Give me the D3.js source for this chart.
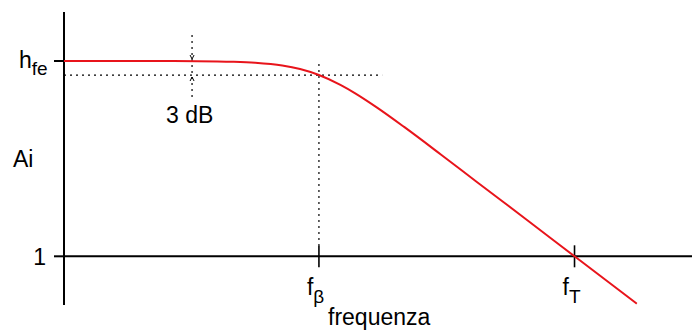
<!DOCTYPE html>
<html>
<head>
<meta charset="utf-8">
<script src="https://cdn.jsdelivr.net/npm/d3@7"></script>
<style>
  body { margin: 0; background: #fff; }
  text { font-family: "Liberation Sans", Arial, sans-serif; fill: #000; }
</style>
</head>
<body>
<div id="chart"></div>
<script>
// curva (frequenza normalizzata su f_beta, guadagno Ai)
const freq = [0.0081, 0.03, 0.1, 0.2, 0.3, 0.5, 0.7, 1, 1.5, 2, 3, 5, 10, 20, 50, 125, 405];
const gain = [125, 125, 124.4, 122.6, 119.7, 111.8, 102.4, 88.4, 69.3, 55.9, 39.5, 24.5, 12.4, 6.2, 2.5, 1.0, 0.31];

// tacche
const xTicks = [{ v: 1, label: "f", sub: "β" }, { v: 125, label: "f", sub: "T" }];
const yTicks = [{ v: 125, label: "h", sub: "fe" }, { v: 1, label: "1", sub: "" }];

const level3dB = 88.4;        // hfe / sqrt(2)
const f3dBEnd = 3.3;          // fine della linea tratteggiata orizzontale
const marker3dB = { f: 0.091, top: 238, bottom: 47 };
const fBetaTop = 116;

function createVis(rute) {
  const W = 692, H = 331;
  const SVG = d3.select(rute).append("svg")
    .attr("width", W).attr("height", H);

  const escalaX = d3.scaleLog().domain([0.0081, 1150]).range([64, 692]);
  const escalaY = d3.scaleLog().domain([0.3, 420]).range([305, 12]);

  const x0 = escalaX.range()[0];
  const y1 = escalaY(1);

  // linee tratteggiate
  const dots = SVG.append("g")
    .attr("stroke", "#000").attr("stroke-width", 1.2)
    .attr("stroke-dasharray", "2,4").attr("fill", "none");
  dots.append("line")
    .attr("x1", x0).attr("x2", escalaX(f3dBEnd))
    .attr("y1", escalaY(level3dB)).attr("y2", escalaY(level3dB));
  dots.append("line")
    .attr("x1", escalaX(1)).attr("x2", escalaX(1))
    .attr("y1", escalaY(fBetaTop)).attr("y2", y1 - 11);
  dots.append("line")
    .attr("x1", escalaX(marker3dB.f)).attr("x2", escalaX(marker3dB.f))
    .attr("y1", escalaY(marker3dB.top)).attr("y2", escalaY(marker3dB.bottom));

  // piccole frecce del 3 dB
  const mx = escalaX(marker3dB.f);
  const arr = SVG.append("g").attr("stroke", "#000").attr("stroke-width", 1).attr("fill", "none");
  const yA = escalaY(gain[0]) - 2, yB = escalaY(level3dB) + 2;
  arr.append("path").attr("d", `M${mx - 2},${yA - 4}L${mx},${yA}L${mx + 2},${yA - 4}`);
  arr.append("path").attr("d", `M${mx - 2},${yB + 4}L${mx},${yB}L${mx + 2},${yB + 4}`);

  // assi
  const axes = SVG.append("g").attr("stroke", "#000").attr("stroke-width", 2);
  axes.append("line").attr("x1", x0).attr("x2", W).attr("y1", y1).attr("y2", y1);
  axes.append("line").attr("x1", x0).attr("x2", x0)
    .attr("y1", escalaY.range()[1]).attr("y2", escalaY.range()[0]);

  // tacche asse X
  xTicks.forEach(t => {
    const x = escalaX(t.v);
    SVG.append("line").attr("x1", x).attr("x2", x)
      .attr("y1", y1 - 11).attr("y2", y1 + 11)
      .attr("stroke", "#000").attr("stroke-width", 1.6);
    const tx = SVG.append("text").attr("x", x - 12).attr("y", 295)
      .style("font-size", "23px");
    tx.append("tspan").text(t.label);
    tx.append("tspan").attr("dy", 8).style("font-size", "19px").text(t.sub);
  });

  // tacche asse Y
  yTicks.forEach(t => {
    const y = escalaY(t.v);
    SVG.append("line").attr("x1", x0 - 10).attr("x2", x0)
      .attr("y1", y).attr("y2", y)
      .attr("stroke", "#000").attr("stroke-width", 2);
    const tx = SVG.append("text").attr("y", y + 7).style("font-size", "23px");
    if (t.sub) {
      tx.attr("x", 19);
      tx.append("tspan").text(t.label);
      tx.append("tspan").attr("dy", 7).style("font-size", "19px").text(t.sub);
    } else {
      tx.attr("x", 46).attr("y", y + 9).style("text-anchor", "end").text(t.label);
    }
  });

  // curva
  const pts = freq.map((f, i) => [escalaX(f), escalaY(gain[i])]);
  SVG.append("path")
    .attr("d", d3.line().curve(d3.curveMonotoneX)(pts))
    .attr("fill", "none").attr("stroke", "#e8141b").attr("stroke-width", 2);

  // etichette
  SVG.append("text").attr("x", 13).attr("y", 167).style("font-size", "23px").text("Ai");
  SVG.append("text").attr("x", 166).attr("y", 123).style("font-size", "23px").text("3 dB");
  SVG.append("text").attr("x", 328).attr("y", 325).style("font-size", "23px").text("frequenza");
}

createVis("#chart");
</script>
</body>
</html>
